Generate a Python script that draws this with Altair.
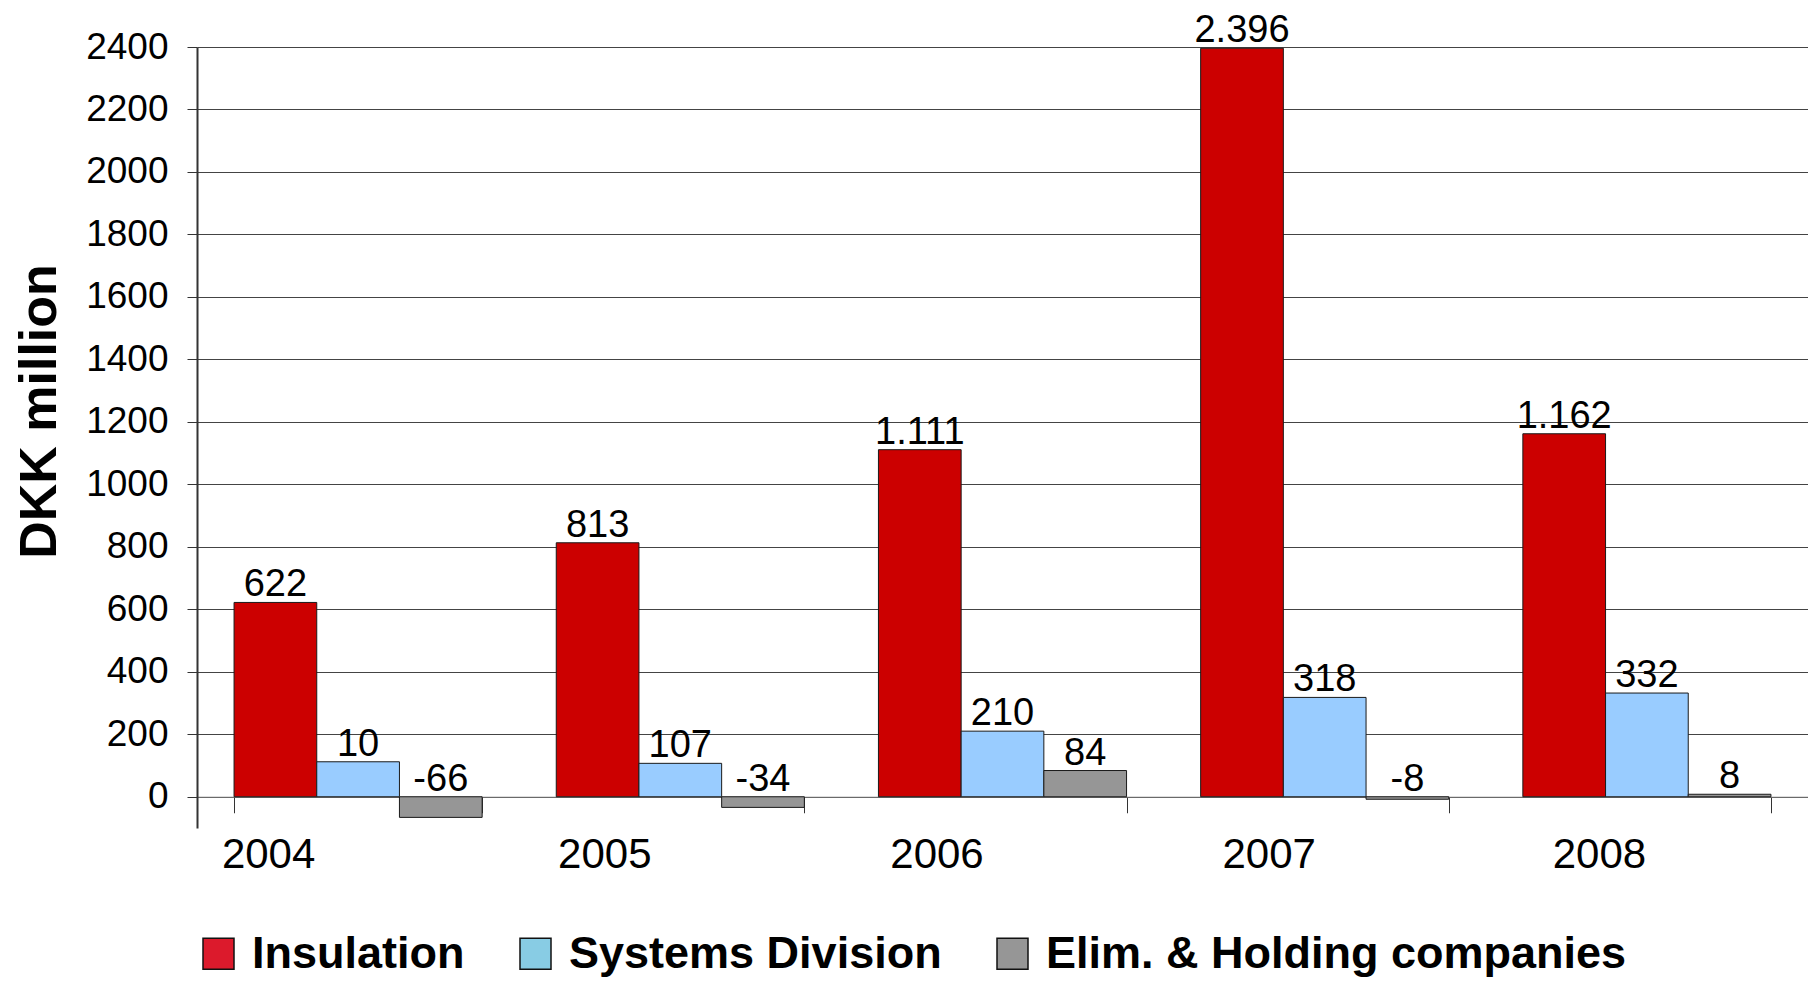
import altair as alt
import pandas as pd

years = ["2004", "2005", "2006", "2007", "2008"]
series = ["Insulation", "Systems Division", "Elim. & Holding companies"]

insulation = [622, 813, 1111, 2396, 1162]
systems = [112, 107, 210, 318, 332]
elim = [-66, -34, 84, -8, 8]

insulation_labels = ["622", "813", "1.111", "2.396", "1.162"]
systems_labels = ["10", "107", "210", "318", "332"]
elim_labels = ["-66", "-34", "84", "-8", "8"]

y_ticks = [0, 200, 400, 600, 800, 1000, 1200, 1400, 1600, 1800, 2000, 2200, 2400]

bar_colors = ["#CC0000", "#99CCFF", "#969696"]
legend_colors = ["#DC1A2C", "#88CCE4", "#969696"]

rows = []
for s, vals, labs in zip(series, [insulation, systems, elim],
                         [insulation_labels, systems_labels, elim_labels]):
    for yr, v, lab in zip(years, vals, labs):
        rows.append({"year": yr, "series": s, "value": v, "label": lab,
                     "label_pos": max(v, 0)})
df = pd.DataFrame(rows)

FONT = "Arial"

year_label_offset = {
    "condition": [
        {"test": "datum.value == '2004'", "value": -90},
        {"test": "datum.value == '2005'", "value": -76},
        {"test": "datum.value == '2006'", "value": -66},
        {"test": "datum.value == '2007'", "value": -56},
    ],
    "value": -48,
}

x_enc = alt.X(
    "year:N",
    sort=years,
    scale=alt.Scale(paddingInner=0.23, paddingOuter=0.115),
    axis=alt.Axis(
        title=None, labelAngle=0, labelFontSize=42, labelFont=FONT,
        labelColor="black", labelPadding=22, labelOffset=year_label_offset,
        tickBand="extent", tickSize=16, tickColor="#333", tickWidth=1,
        domainColor="#777", domainWidth=1, offset=-31.24, grid=False,
    ),
)
xoff = alt.XOffset("series:N", sort=series,
                   scale=alt.Scale(domain=series, paddingInner=0, paddingOuter=0))
y_scale = alt.Scale(domain=[-100, 2400], nice=False, zero=False)

y_axis = alt.Axis(
    values=y_ticks, format="d", title="DKK million", titleFontSize=52,
    titleFont=FONT, titleFontWeight="bold", titleColor="black",
    titleX=-158, titleY=364, titleAlign="center", titleBaseline="middle",
    titleAngle=270,
    labelFontSize=37, labelFont=FONT, labelColor="black", labelPadding=19,
    tickSize=10, tickColor="#333", domainColor="#333", domainWidth=2,
    grid=True, gridColor="#444", gridWidth=1, gridOpacity=1,
)

base = alt.Chart(df)

legend_layer = base.mark_square(filled=True, clip=True, opacity=1).encode(
    x=x_enc,
    xOffset=xoff,
    y=alt.YDatum(-5000, scale=y_scale, axis=y_axis),
    color=alt.Color(
        "series:N", sort=series,
        scale=alt.Scale(domain=series, range=legend_colors),
        legend=alt.Legend(
            orient="none", legendX=-1, legendY=884, direction="horizontal",
            title=None, symbolType="square", symbolSize=961,
            symbolStrokeColor="#111", symbolStrokeWidth=1.5,
            symbolOpacity=1,
            labelFontSize=45, labelFont=FONT, labelFontWeight="bold",
            labelColor="black", labelLimit=1000, labelOffset=11,
            columnPadding=48, padding=0,
        ),
    ),
)

bars = base.mark_bar(stroke="#1a1a1a", strokeWidth=1).encode(
    x=x_enc,
    xOffset=xoff,
    y=alt.Y("value:Q", scale=y_scale, axis=y_axis),
    y2=alt.datum(0),
    fill=alt.Fill("series:N", sort=series,
                  scale=alt.Scale(domain=series, range=bar_colors), legend=None),
)

labels = base.mark_text(fontSize=38, font=FONT, baseline="alphabetic",
                        dy=-6, color="black").encode(
    x=x_enc,
    xOffset=xoff,
    y=alt.Y("label_pos:Q", scale=y_scale, axis=y_axis),
    text="label:N",
)

chart = alt.layer(legend_layer, bars, labels).properties(
    width=1611, height=781,
    padding={"left": 189, "top": 39, "right": 0, "bottom": 149},
    autosize=alt.AutoSizeParams(type="none"),
    background="white",
).configure_view(stroke=None)

chart.save("out.html", embed_options={"renderer": "svg", "actions": False})
